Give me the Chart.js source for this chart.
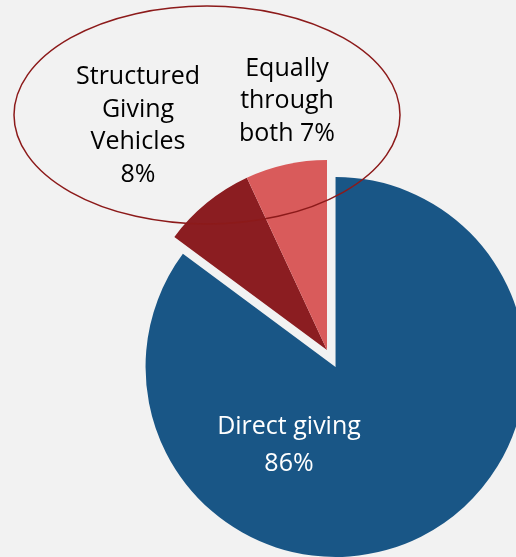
<!DOCTYPE html>
<html>
<head>
<meta charset="utf-8">
<script src="https://cdn.jsdelivr.net/npm/chart.js@4"></script>
<style>
  html, body { margin: 0; padding: 0; background: #f2f2f2; overflow: hidden; }
  #wrap { width: 516px; height: 557px; position: relative; }
</style>
</head>
<body>
<div id="wrap"><canvas id="pie" width="516" height="557"></canvas></div>
<script>
const categories = ["Direct giving", "Structured Giving Vehicles", "Equally through both"];
const shares = [86, 8, 7];
const sliceColors = ["#195686", "#8b1d21", "#d95b5b"];

// how each slice is pulled out of the pie (px) and where its label sits
const explode = [19, 0, 0];
const labelAt = [[289, 445], [138, 126], [287, 101]];
const labelWrap = [180, 130, 110];
const labelLine = [37, 32.5, 32.5];
const labelColor = ["#ffffff", "#000000", "#000000"];

const explodePlugin = {
  id: "explode",
  afterDatasetsUpdate(chart) {
    chart.getDatasetMeta(0).data.forEach((arc, i) => {
      if (!explode[i]) return;
      const mid = (arc.startAngle + arc.endAngle) / 2;
      arc.x += Math.cos(mid) * explode[i];
      arc.y += Math.sin(mid) * explode[i];
    });
  }
};

function wrapWords(ctx, text, maxW) {
  const words = text.split(" ");
  const lines = [];
  let cur = "";
  words.forEach(w => {
    const t = cur ? cur + " " + w : w;
    if (cur && ctx.measureText(t).width > maxW) { lines.push(cur); cur = w; }
    else cur = t;
  });
  if (cur) lines.push(cur);
  return lines;
}

const calloutPlugin = {
  id: "callout",
  afterDatasetsDraw(chart) {
    const ctx = chart.ctx;
    ctx.save();
    // callout ellipse round the two small slices' labels
    ctx.beginPath();
    ctx.ellipse(207, 115, 193, 109, 0, 0, Math.PI * 2);
    ctx.strokeStyle = "#8c1a1a";
    ctx.lineWidth = 1.5;
    ctx.stroke();

    ctx.font = "25px 'Open Sans'";
    ctx.textAlign = "center";
    ctx.textBaseline = "middle";
    categories.forEach((c, i) => {
      const lines = wrapWords(ctx, c + " " + shares[i] + "%", labelWrap[i]);
      const [cx, cy] = labelAt[i];
      const top = cy - (lines.length - 1) * labelLine[i] / 2;
      ctx.fillStyle = labelColor[i];
      lines.forEach((ln, k) => ctx.fillText(ln, cx, top + k * labelLine[i]));
    });
    ctx.restore();
  }
};

new Chart(document.getElementById("pie"), {
  type: "pie",
  data: {
    labels: categories,
    datasets: [{
      data: shares,
      backgroundColor: sliceColors,
      borderWidth: 0,
      radius: 190,
      clip: false
    }]
  },
  options: {
    responsive: false,
    animation: false,
    layout: { padding: { left: 138, top: 143, right: 0, bottom: 0 } },
    plugins: { legend: { display: false }, tooltip: { enabled: false } }
  },
  plugins: [explodePlugin, calloutPlugin]
});
</script>
</body>
</html>
